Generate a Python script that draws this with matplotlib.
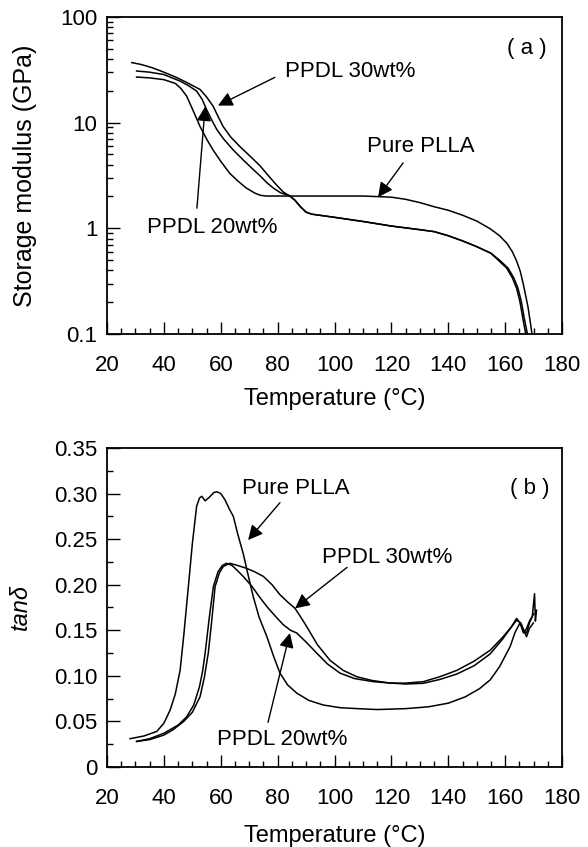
import matplotlib
matplotlib.use('Agg')
import matplotlib.pyplot as plt
from matplotlib.ticker import MultipleLocator, LogLocator, FixedLocator, FuncFormatter

plt.rcParams['font.family'] = ['Liberation Sans', 'DejaVu Sans']

# (a) storage modulus, GPa
T_plla_a = [30.4, 35, 40, 44, 46, 48, 50, 52.7, 55, 57.3, 60, 63.2, 66, 69, 72, 74, 76, 90, 110,
            120, 125, 130, 135, 140, 145, 150, 154.7, 158, 160.6, 162.5, 164, 165.3, 166.3, 167.2, 168, 168.8, 169.4]
E_plla = [27.0, 26.5, 25.5, 23.5, 21, 17.8, 13.5, 9.2, 7.0, 5.5, 4.3, 3.3, 2.8, 2.4, 2.15, 2.05, 2.02, 2.02, 2.02,
          1.97, 1.88, 1.75, 1.6, 1.48, 1.33, 1.17, 0.99, 0.85, 0.72, 0.6, 0.49, 0.39, 0.3, 0.23, 0.18, 0.13, 0.1]

T_20_a = [30.4, 35, 40, 45.7, 48.5, 51.5, 53.5, 55, 56.8, 58.6, 61, 64.4, 68, 71.4, 74, 76.2, 78.5, 81, 84.3,
          86, 88, 90, 92, 100, 110, 120, 130, 135, 140, 145, 150, 155, 157.5, 160.5, 162.5, 164, 165.2, 166.2, 167.2]
E_20 = [30.8, 30.0, 28.5, 24.7, 22.5, 19.9, 16.5, 13.3, 10.6, 8.6, 7.0, 5.5, 4.4, 3.6, 3.1, 2.7, 2.4, 2.17, 2.02,
        1.85, 1.6, 1.42, 1.36, 1.27, 1.16, 1.05, 0.97, 0.93, 0.85, 0.76, 0.67, 0.58, 0.5, 0.42, 0.34, 0.27, 0.2, 0.14, 0.1]

T_30_a = [28.7, 32, 36, 40, 44.5, 48, 52.7, 55, 57.3, 59, 60.8, 63.5, 66.8, 70, 73.8, 76.5, 79.7, 82, 84.3,
          86, 88, 90, 92, 100, 110, 120, 130, 135, 140, 145, 150, 155, 158, 161, 163, 164.5, 165.7, 166.7, 167.8]
E_30 = [37.0, 35.5, 33.0, 30.0, 26.7, 24.0, 20.6, 17.5, 14.3, 11.5, 9.2, 7.3, 5.9, 4.9, 3.9, 3.2, 2.55, 2.2, 2.02,
        1.85, 1.6, 1.42, 1.36, 1.27, 1.16, 1.05, 0.97, 0.93, 0.85, 0.76, 0.67, 0.58, 0.5, 0.42, 0.34, 0.27, 0.2, 0.14, 0.1]

# (b) tan delta
T_plla_b = [28.1, 33, 37.5, 40, 42.2, 44, 45.7, 47, 48.6, 50, 51.5, 52.5, 53.3, 54.5, 56, 57.5, 58.6, 60, 61.5, 63,
            64.4, 66, 67.9, 69.5, 71.4, 73.5, 76.2, 78.5, 80.8, 83.5, 86.7, 91, 96, 102, 108, 115, 125, 133, 140,
            146, 151, 154.7, 158, 161.7, 163.5, 165.2, 166.5, 167.5, 168.5, 169.9]
tan_plla = [0.031, 0.034, 0.039, 0.048, 0.0625, 0.08, 0.106, 0.145, 0.198, 0.245, 0.286, 0.295, 0.297, 0.292, 0.296,
            0.301, 0.302, 0.300, 0.293, 0.283, 0.275, 0.255, 0.234, 0.212, 0.187, 0.164, 0.143, 0.122, 0.103, 0.090,
            0.081, 0.073, 0.068, 0.065, 0.064, 0.063, 0.064, 0.066, 0.070, 0.077, 0.086, 0.0955, 0.11, 0.132, 0.148,
            0.158, 0.150, 0.143, 0.152, 0.158]

T_20_b = [30.4, 35, 40, 45, 48, 50.5, 52.5, 53.6, 54.5, 56, 57.4, 59, 60.5, 62, 64, 66, 67.9, 71, 73.5, 76.2, 79, 82,
          84.5, 86.7, 90, 93.7, 97.5, 101.9, 107, 113.6, 120, 125, 131.2, 137, 143, 149, 154.7, 159, 162, 164,
          165.2, 166.4, 167.5, 168.5, 170]
tan_20 = [0.028, 0.031, 0.037, 0.046, 0.055, 0.068, 0.088, 0.105, 0.125, 0.165, 0.198, 0.214, 0.221, 0.2235, 0.221,
          0.215, 0.209, 0.198, 0.187, 0.176, 0.166, 0.156, 0.150, 0.147, 0.137, 0.125, 0.113, 0.103, 0.097, 0.0936,
          0.092, 0.091, 0.0918, 0.096, 0.102, 0.111, 0.124, 0.14, 0.153, 0.163, 0.158, 0.147, 0.152, 0.16, 0.168]

T_30_b = [30.4, 35, 40, 43.3, 47, 50, 52.7, 54.2, 55.6, 56.8, 58, 59.5, 60.9, 63.2, 66, 69, 72, 75, 78, 80.8, 83.5,
          86.1, 88, 90.2, 94, 98.4, 103, 107.8, 113, 119.5, 125, 131.2, 137, 143, 149, 154.7, 159, 162, 164, 165.5,
          166.5, 167.5, 168.5, 169.5, 170.3, 170.6, 171]
tan_30 = [0.028, 0.030, 0.035, 0.041, 0.050, 0.060, 0.077, 0.098, 0.125, 0.16, 0.198, 0.213, 0.22, 0.2235, 0.221,
          0.218, 0.214, 0.209, 0.200, 0.189, 0.181, 0.174, 0.165, 0.154, 0.134, 0.117, 0.106, 0.099, 0.095, 0.092,
          0.092, 0.0936, 0.099, 0.106, 0.116, 0.128, 0.142, 0.153, 0.161, 0.158, 0.150, 0.147, 0.158, 0.165, 0.19,
          0.16, 0.172]

fs = 16
fig = plt.figure(figsize=(5.88, 8.47), dpi=100)
ax1 = fig.add_axes([0.182, 0.6057, 0.774, 0.3743])
ax2 = fig.add_axes([0.182, 0.0945, 0.774, 0.3766])

lw = 1.1
ax1.plot(T_plla_a, E_plla, color='black', lw=lw)
ax1.plot(T_20_a, E_20, color='black', lw=lw)
ax1.plot(T_30_a, E_30, color='black', lw=lw)
ax1.set_yscale('log')
ax1.set_ylim(0.1, 100)
ax1.yaxis.set_major_locator(FixedLocator([0.1, 1, 10, 100]))
ax1.yaxis.set_major_formatter(FuncFormatter(lambda v, p: {0.1: '0.1', 1: '1', 10: '10', 100: '100'}.get(round(v, 1), '')))
ax1.yaxis.set_minor_locator(LogLocator(base=10, subs=range(2, 10)))
ax1.yaxis.set_minor_formatter(FuncFormatter(lambda v, p: ''))

ax2.plot(T_plla_b, tan_plla, color='black', lw=lw)
ax2.plot(T_20_b, tan_20, color='black', lw=lw)
ax2.plot(T_30_b, tan_30, color='black', lw=lw)
ax2.set_ylim(0, 0.35)
ax2.yaxis.set_major_locator(MultipleLocator(0.05))
ax2.yaxis.set_minor_locator(MultipleLocator(0.025))
ax2.yaxis.set_major_formatter(FuncFormatter(lambda v, p: '0' if abs(v) < 1e-9 else '%.2f' % v))

for ax in (ax1, ax2):
    ax.set_xlim(20, 180)
    ax.xaxis.set_major_locator(MultipleLocator(20))
    ax.xaxis.set_minor_locator(MultipleLocator(5))
    ax.tick_params(which='both', direction='in', top=False, right=False, labelsize=fs, width=1.0)
    ax.tick_params(which='major', length=9)
    ax.tick_params(which='minor', length=4.5)
    ax.tick_params(axis='x', pad=15)
    ax.tick_params(axis='y', pad=7)
    for s in ax.spines.values():
        s.set_linewidth(1.3)
    ax.set_xlabel('Temperature (°C)', fontsize=17, va='top')

ax1.xaxis.set_label_coords(0.5, -0.17)
ax2.xaxis.set_label_coords(0.5, -0.182)
ax1.set_ylabel('Storage modulus (GPa)', fontsize=18)
ax1.yaxis.set_label_coords(-0.154, 0.5)
ax2.set_ylabel('tanδ', fontsize=17, fontstyle='italic')
ax2.yaxis.set_label_coords(-0.165, 0.5)

arrow = dict(arrowstyle='-|>', mutation_scale=22, color='black', lw=1.0, shrinkA=0, shrinkB=0)

# panel (a) labels
ax1.text(167.7, 50, '( a )', fontsize=fs, ha='center', va='center')
ax1.text(82.6, 30.6, 'PPDL 30wt%', fontsize=fs, ha='left', va='center')
ax1.annotate('', xy=(59, 14.5), xytext=(79, 26.8), arrowprops=arrow)
ax1.text(111.4, 5.9, 'Pure PLLA', fontsize=fs, ha='left', va='center')
ax1.annotate('', xy=(115.3, 1.97), xytext=(124.1, 4.16), arrowprops=arrow)
ax1.text(34.1, 1.02, 'PPDL 20wt%', fontsize=fs, ha='left', va='center')
ax1.annotate('', xy=(54.5, 14.2), xytext=(51.6, 1.55), arrowprops=arrow)

# panel (b) labels
ax2.text(168.7, 0.306, '( b )', fontsize=fs, ha='center', va='center')
ax2.text(67.5, 0.306, 'Pure PLLA', fontsize=fs, ha='left', va='center')
ax2.annotate('', xy=(69.6, 0.249), xytext=(80.8, 0.290), arrowprops=arrow)
ax2.text(95.6, 0.230, 'PPDL 30wt%', fontsize=fs, ha='left', va='center')
ax2.annotate('', xy=(86.1, 0.174), xytext=(104.4, 0.219), arrowprops=arrow)
ax2.text(58.7, 0.0296, 'PPDL 20wt%', fontsize=fs, ha='left', va='center')
ax2.annotate('', xy=(84.3, 0.147), xytext=(76.6, 0.049), arrowprops=arrow)

fig.savefig('out.png', dpi=100)
